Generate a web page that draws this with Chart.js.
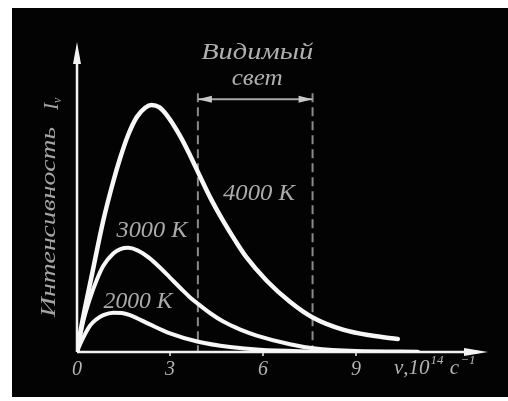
<!DOCTYPE html>
<html>
<head>
<meta charset="utf-8">
<script src="https://cdn.jsdelivr.net/npm/chart.js@4/dist/chart.umd.min.js"></script>
<style>
    html, body { margin: 0; padding: 0; background: #fff; }
    canvas { display: block; }
</style>
</head>
<body>
<canvas id="graficoPlanck" width="508" height="401"></canvas>
<script>
// частота, 10^14 с^-1 / интенсивность (усл. ед.)
var nu4000 = [0, 0.15, 0.50, 0.85, 1.17, 1.39, 1.65, 1.93, 2.20, 2.41, 2.65, 2.89, 3.32, 3.65, 3.97, 4.30, 4.72, 5.10, 5.47, 6.12, 6.87, 7.59, 8.58, 9.50, 10.35];
var int4000 = [0, 0.87, 2.58, 4.25, 5.50, 6.25, 7.00, 7.58, 7.88, 7.97, 7.90, 7.65, 6.98, 6.34, 5.66, 4.98, 4.22, 3.60, 3.05, 2.30, 1.62, 1.12, 0.72, 0.53, 0.42];

var nu3000 = [0, 0.20, 0.42, 0.64, 0.85, 1.17, 1.40, 1.65, 1.95, 2.35, 2.70, 3.00, 3.35, 3.65, 3.87, 4.30, 4.72, 5.25, 5.80, 6.87, 7.62, 9.0, 11.0];
var int3000 = [0, 0.98, 1.73, 2.33, 2.78, 3.18, 3.32, 3.36, 3.28, 3.02, 2.70, 2.40, 2.05, 1.76, 1.58, 1.25, 0.98, 0.73, 0.53, 0.25, 0.12, 0.03, 0.01];

var nu2000 = [0, 0.10, 0.42, 0.62, 0.85, 1.17, 1.45, 1.71, 2.35, 3.00, 3.91, 4.94, 5.90, 7.5, 9.0];
var int2000 = [0, 0.25, 0.85, 1.05, 1.19, 1.27, 1.26, 1.19, 0.89, 0.60, 0.33, 0.16, 0.07, 0.02, 0];

var temperaturas = ['4000 K', '3000 K', '2000 K'];
var ticksX = [0, 3, 6, 9];
var faixaVisivel = [3.9, 7.6];

function pontos(xs, ys) {
    return xs.map(function (v, i) { return { x: v, y: ys[i] }; });
}

var fonte = '"Liberation Serif", "Times New Roman", serif';

// texto esticado até a largura desejada
function textoAjustado(ctx, str, cx, cy, tamanho, largura, cor, angulo) {
    ctx.save();
    ctx.translate(cx, cy);
    if (angulo) ctx.rotate(angulo);
    ctx.font = 'italic ' + tamanho + 'px ' + fonte;
    var w = ctx.measureText(str).width;
    ctx.scale(largura ? largura / w : 1, 1);
    ctx.fillStyle = cor;
    ctx.textAlign = 'center';
    ctx.textBaseline = 'middle';
    ctx.fillText(str, 0, 0);
    ctx.restore();
}

function seta(ctx, x0, y0, x1, y1, comp, meia) {
    var a = Math.atan2(y1 - y0, x1 - x0);
    ctx.beginPath();
    ctx.moveTo(x1, y1);
    ctx.lineTo(x1 - comp * Math.cos(a) + meia * Math.sin(a), y1 - comp * Math.sin(a) - meia * Math.cos(a));
    ctx.lineTo(x1 - comp * Math.cos(a) - meia * Math.sin(a), y1 - comp * Math.sin(a) + meia * Math.cos(a));
    ctx.closePath();
    ctx.fill();
}

var desenho = {
    id: 'desenho',
    beforeDraw: function (chart) {
        var ctx = chart.ctx;
        ctx.save();
        ctx.fillStyle = '#ffffff';
        ctx.fillRect(0, 0, chart.width, chart.height);
        ctx.fillStyle = '#030303';
        ctx.fillRect(12, 8, chart.width - 12, 389);
        ctx.restore();
    },
    beforeDatasetsDraw: function (chart) {
        var ctx = chart.ctx;
        var sx = chart.scales.x, sy = chart.scales.y;
        var x0 = sx.getPixelForValue(0), y0 = sy.getPixelForValue(0);
        var xFim = sx.getPixelForValue(sx.max), yFim = sy.getPixelForValue(sy.max);
        ctx.save();

        // linhas tracejadas da luz visível
        var yTopo = sy.getPixelForValue(8.35);
        ctx.strokeStyle = '#8a8a8a';
        ctx.lineWidth = 2;
        ctx.setLineDash([9, 5]);
        faixaVisivel.forEach(function (v) {
            var px = sx.getPixelForValue(v);
            ctx.beginPath();
            ctx.moveTo(px, yTopo);
            ctx.lineTo(px, y0);
            ctx.stroke();
        });
        ctx.setLineDash([]);

        // seta dupla
        var xa = sx.getPixelForValue(faixaVisivel[0]), xb = sx.getPixelForValue(faixaVisivel[1]);
        var ys = sy.getPixelForValue(8.15);
        ctx.strokeStyle = '#a8a8a8';
        ctx.fillStyle = '#c8c8c8';
        ctx.lineWidth = 2;
        ctx.beginPath();
        ctx.moveTo(xa, ys);
        ctx.lineTo(xb, ys);
        ctx.stroke();
        seta(ctx, xb - 10, ys, xa, ys, 14, 3.5);
        seta(ctx, xa + 10, ys, xb, ys, 14, 3.5);

        // eixos
        ctx.strokeStyle = '#f2f2f2';
        ctx.fillStyle = '#f2f2f2';
        ctx.lineWidth = 2.5;
        ctx.beginPath();
        ctx.moveTo(x0, y0);
        ctx.lineTo(xFim - 10, y0);
        ctx.moveTo(x0, y0);
        ctx.lineTo(x0, yFim + 10);
        ctx.stroke();
        seta(ctx, x0, y0, xFim, y0, 24, 4);
        seta(ctx, x0, y0, x0, yFim, 22, 4);

        ctx.lineWidth = 1.5;
        ticksX.forEach(function (t) {
            if (t === 0) return;
            var px = sx.getPixelForValue(t);
            ctx.beginPath();
            ctx.moveTo(px, y0);
            ctx.lineTo(px, y0 + 4);
            ctx.stroke();
        });
        ctx.restore();
    },
    afterDatasetsDraw: function (chart) {
        var ctx = chart.ctx;
        var sx = chart.scales.x, sy = chart.scales.y;
        var y0 = sy.getPixelForValue(0);
        ctx.save();

        // rótulos do eixo x
        ticksX.forEach(function (t) {
            textoAjustado(ctx, String(t), sx.getPixelForValue(t), y0 + 18, 20, 0, '#b4b4b4');
        });

        // ν,10^14 с^-1
        var px = 394, py = y0 + 16;
        ctx.fillStyle = '#b4b4b4';
        ctx.textBaseline = 'middle';
        ctx.textAlign = 'left';
        var partes = [['ν,10', 21, 0], ['14', 13, -7], [' с', 21, 0], ['−1', 13, -7]];
        partes.forEach(function (p) {
            ctx.font = 'italic ' + p[1] + 'px ' + fonte;
            ctx.fillText(p[0], px, py + p[2]);
            px += ctx.measureText(p[0]).width + 1;
        });

        // Видимый свет
        var xm = (sx.getPixelForValue(faixaVisivel[0]) + sx.getPixelForValue(faixaVisivel[1])) / 2;
        textoAjustado(ctx, 'Видимый', xm + 2, 53, 23, 112, '#b0b0b0');
        textoAjustado(ctx, 'свет', xm + 2, 79, 23, 51, '#b0b0b0');

        // temperaturas
        var posRotulos = [[5.87, 5.10, 72], [2.42, 3.90, 71], [1.97, 1.61, 69]];
        temperaturas.forEach(function (t, i) {
            var p = posRotulos[i];
            textoAjustado(ctx, t, sx.getPixelForValue(p[0]), sy.getPixelForValue(p[1]), 23, p[2], '#ababab');
        });

        // eixo y
        textoAjustado(ctx, 'Интенсивность', 49, 222, 22, 190, '#a4a4a4', -Math.PI / 2);
        ctx.save();
        ctx.translate(52, 104);
        ctx.rotate(-Math.PI / 2);
        ctx.fillStyle = '#a4a4a4';
        ctx.textBaseline = 'middle';
        ctx.textAlign = 'left';
        ctx.font = 'italic 21px ' + fonte;
        ctx.fillText('I', -6, 0);
        ctx.font = 'italic 12px ' + fonte;
        ctx.fillText('ν', 1, 6);
        ctx.restore();

        ctx.restore();
    }
};

var ctxGrafico = document.getElementById('graficoPlanck').getContext('2d');

new Chart(ctxGrafico, {
    type: 'line',
    data: {
        datasets: [{
            label: temperaturas[0],
            data: pontos(nu4000, int4000),
            borderColor: '#f7f7f7',
            borderWidth: 4.5
        }, {
            label: temperaturas[1],
            data: pontos(nu3000, int3000),
            borderColor: '#f7f7f7',
            borderWidth: 4
        }, {
            label: temperaturas[2],
            data: pontos(nu2000, int2000),
            borderColor: '#f7f7f7',
            borderWidth: 4
        }]
    },
    options: {
        responsive: false,
        animation: false,
        devicePixelRatio: 1,
        layout: { padding: { left: 77, right: 20, top: 42, bottom: 49 } },
        elements: {
            point: { radius: 0 },
            line: { cubicInterpolationMode: 'monotone', fill: false, borderCapStyle: 'round', borderJoinStyle: 'round' }
        },
        plugins: {
            legend: { display: false },
            tooltip: { enabled: false }
        },
        scales: {
            x: { type: 'linear', min: 0, max: 13.26, display: false },
            y: { type: 'linear', min: 0, max: 10, display: false }
        }
    },
    plugins: [desenho]
});
</script>
</body>
</html>
